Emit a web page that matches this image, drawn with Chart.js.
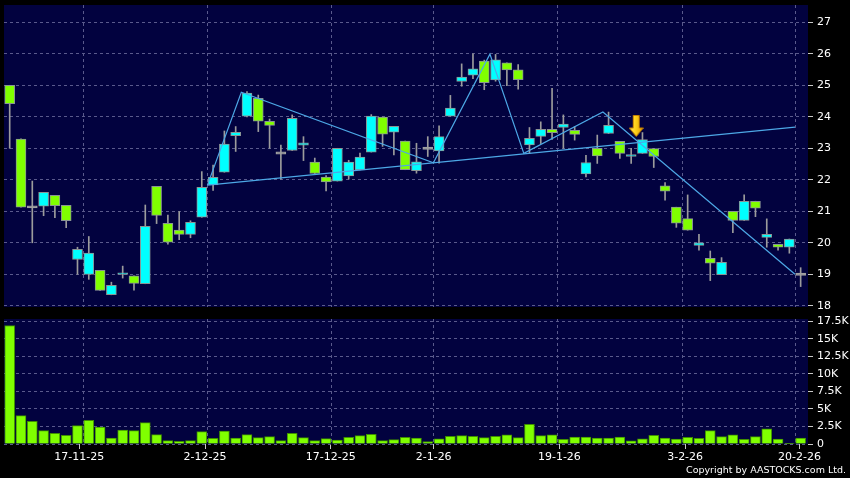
<!DOCTYPE html>
<html><head><meta charset="utf-8">
<script src="https://cdn.jsdelivr.net/npm/chart.js@4"></script>
<style>
html,body{margin:0;padding:0;background:#000;}
#wrap{position:relative;width:850px;height:478px;background:#000;overflow:hidden;}
#priceCv{position:absolute;left:0;top:0;}
#volCv{position:absolute;left:0;top:312px;}
#copy{position:absolute;right:4px;top:464px;font:9.5px "DejaVu Sans";color:#fff;white-space:nowrap;}
</style></head>
<body><div id="wrap">
<canvas id="priceCv" width="850" height="312"></canvas>
<canvas id="volCv" width="850" height="166"></canvas>
<div id="copy">Copyright by AASTOCKS.com Ltd.</div>
</div>
<script>
const dates = ['6-11-25','7-11-25','10-11-25','11-11-25','12-11-25','13-11-25','14-11-25','17-11-25','18-11-25','19-11-25','20-11-25','21-11-25','24-11-25','25-11-25','26-11-25','27-11-25','28-11-25','1-12-25','2-12-25','3-12-25','4-12-25','5-12-25','8-12-25','9-12-25','10-12-25','11-12-25','12-12-25','15-12-25','16-12-25','17-12-25','18-12-25','19-12-25','22-12-25','23-12-25','24-12-25','29-12-25','30-12-25','31-12-25','2-1-26','5-1-26','6-1-26','7-1-26','8-1-26','9-1-26','12-1-26','13-1-26','14-1-26','15-1-26','16-1-26','19-1-26','20-1-26','21-1-26','22-1-26','23-1-26','26-1-26','27-1-26','28-1-26','29-1-26','30-1-26','2-2-26','3-2-26','4-2-26','5-2-26','6-2-26','9-2-26','10-2-26','11-2-26','12-2-26','13-2-26','16-2-26','20-2-26'];
const open = [25.00,23.29,21.14,21.16,21.51,21.19,19.47,19.00,19.13,18.35,
  19.00,18.95,18.70,21.79,20.62,20.40,20.27,20.81,21.84,22.24,
  23.40,24.02,24.59,23.86,22.85,22.93,23.10,22.56,22.09,21.96,
  22.12,22.31,22.88,23.99,23.51,23.23,22.29,23.00,22.92,24.02,
  25.12,25.32,25.77,25.17,25.71,25.49,23.11,23.38,23.60,23.66,
  23.57,22.19,23.00,23.47,23.22,22.74,22.84,22.99,21.81,21.13,
  20.77,19.92,19.51,18.99,21.00,20.71,21.32,20.17,19.95,19.86,19.00];
const high = [25.00,23.30,21.96,21.60,21.51,21.19,19.86,20.20,19.13,18.75,
  19.26,18.95,21.20,21.79,20.88,20.99,20.70,22.26,22.47,23.55,
  23.69,24.80,24.69,23.93,23.10,24.06,23.37,22.69,22.13,23.00,
  22.62,22.85,24.07,23.99,23.70,23.23,23.16,23.37,23.71,24.68,
  25.68,26.00,25.80,25.98,25.71,25.66,23.66,23.84,24.90,24.06,
  23.69,22.78,23.42,24.15,23.22,23.00,23.50,22.99,21.91,21.13,
  21.52,20.27,19.74,19.53,21.00,21.52,21.32,20.76,19.95,20.12,19.21];
const low = [23.00,21.13,20.00,20.86,20.80,20.48,19.00,18.84,18.49,18.35,
  18.88,18.50,18.70,20.61,19.96,20.10,20.16,20.81,21.66,22.24,
  22.90,24.00,23.53,23.00,22.02,22.93,22.61,22.20,21.65,21.96,
  22.02,22.31,22.88,23.06,22.79,22.32,22.21,22.74,22.53,24.02,
  24.97,25.21,24.86,25.13,24.99,24.88,22.84,23.15,23.28,23.00,
  23.26,22.09,22.52,23.47,22.68,22.52,22.84,22.39,21.35,20.49,
  20.40,19.77,18.80,18.99,20.32,20.71,20.83,19.86,19.77,19.67,18.61];
const close = [24.42,21.13,21.14,21.60,21.18,20.70,19.79,19.67,18.49,18.65,
  19.05,18.71,20.52,20.87,20.02,20.27,20.65,21.76,22.08,23.13,
  23.51,24.75,23.86,23.73,22.85,23.95,23.17,22.20,21.93,23.00,
  22.56,22.72,24.02,23.45,23.70,22.32,22.57,23.00,23.37,24.28,
  25.26,25.52,25.08,25.81,25.49,25.18,23.32,23.60,23.50,23.77,
  23.44,22.55,22.76,23.73,22.84,22.80,23.28,22.74,21.64,20.62,
  20.40,20.00,19.35,19.38,20.71,21.32,21.10,20.27,19.86,20.12,19.00];
const volume = [16900,4040,3230,1900,1520,1240,2610,3370,2420,860,
  2000,1900,3040,1330,480,380,480,1760,810,1850,
  860,1330,900,1050,480,1520,900,480,760,570,
  950,1190,1380,480,620,950,860,350,750,1100,
  1200,1100,900,1100,1300,900,2800,1200,1300,650,
  1000,1000,850,850,1000,450,750,1250,850,700,
  950,800,1900,1050,1300,650,1050,2150,700,100,850];
const tickDates = ['17-11-25','2-12-25','17-12-25','2-1-26','19-1-26','3-2-26','20-2-26'];
const priceTicks = [18,19,20,21,22,23,24,25,26,27];
const volumeTicks = [0,2500,5000,7500,10000,12500,15000,17500];
// trend lines (x = trading-day index, y = price)
const zigzagX = [17.5,20.5,37.5,42.5,45.5,52.5,69.5];
const zigzagY = [21.83,24.78,22.54,25.99,22.84,24.15,19.00];
const supportX = [17.5,69.5];
const supportY = [21.83,23.67];
const arrowX = [55.45];
const arrowY = [23.71];

const NAVY = '#02023f';
const GRID = '#5a5a8c';
const UP = '#00ffff', DOWN = '#80ff00';
const FONT = {family:'DejaVu Sans', size:11};

const bgPlugin = {id:'bg', beforeDraw(c){const a=c.chartArea,x=c.ctx;x.save();x.fillStyle=NAVY;x.fillRect(a.left,a.top,a.right-a.left,a.bottom-a.top);x.restore();}};

const tickIdx = tickDates.map(d => dates.indexOf(d));
const gridPos = tickIdx.map(i => i - 0.5);

function fixW(w){return s=>{s.width=w;s.paddingTop=0;s.paddingBottom=0;};}
function fixH(h){return s=>{s.height=h;s.paddingLeft=0;s.paddingRight=0;};}

// arrow glyph
const arrow = document.createElement('canvas');
arrow.width = 15; arrow.height = 22;
(function(){const g=arrow.getContext('2d');
  const gr=g.createLinearGradient(0,0,15,0);
  gr.addColorStop(0,'#ffe866');gr.addColorStop(0.45,'#ffd21a');gr.addColorStop(1,'#e09a00');
  g.fillStyle=gr;g.strokeStyle='#c07a00';g.lineWidth=1;
  g.beginPath();g.moveTo(4.5,0.5);g.lineTo(10.5,0.5);g.lineTo(10.5,13);g.lineTo(14.5,13);g.lineTo(7.5,21.5);g.lineTo(0.5,13);g.lineTo(4.5,13);g.closePath();
  g.fill();g.stroke();})();

const idx = dates.map((d,i)=>i);
const wickData = idx.map(i => ({x:i, y:[low[i], high[i]]}));
const bodyData = idx.map(i => open[i]===close[i] ? {x:i, y:[close[i]-0.035, close[i]+0.035]} : {x:i, y:[Math.min(open[i],close[i]), Math.max(open[i],close[i])]});
const bodyColor = idx.map(i => open[i]===close[i] ? '#a0a0a0' : (close[i]>open[i] ? UP : DOWN));
const bodyBorder = idx.map(i => open[i]===close[i] ? '#a0a0a0' : '#8a9494');

const xGrid = {color:GRID, drawTicks:false, offset:false};

new Chart(document.getElementById('priceCv'), {
  type:'bar',
  data:{datasets:[
    {type:'scatter', data:arrowX.map((x,k)=>({x, y:arrowY[k]})), pointStyle:arrow, pointRadius:8, order:-1},
    {type:'line', data:zigzagX.map((x,k)=>({x, y:zigzagY[k]})), borderColor:'#4da8e6', borderWidth:1.2, pointRadius:0, tension:0, order:0},
    {type:'line', data:supportX.map((x,k)=>({x, y:supportY[k]})), borderColor:'#4da8e6', borderWidth:1.2, pointRadius:0, tension:0, order:0},
    {data:bodyData, backgroundColor:bodyColor, borderColor:bodyBorder, borderWidth:1, borderSkipped:false, barThickness:10, grouped:false, order:1},
    {data:wickData, backgroundColor:'#9c9c9c', borderWidth:0, barThickness:1, grouped:false, order:2}
  ]},
  options:{
    responsive:false, animation:false, devicePixelRatio:1,
    layout:{autoPadding:false, padding:{left:4, top:5, right:0, bottom:5}},
    plugins:{legend:{display:false}, tooltip:{enabled:false}},
    scales:{
      x:{type:'linear', min:-0.504, max:70.65, offset:false,
        afterBuildTicks:s=>{s.ticks=gridPos.map(v=>({value:v}));},
        afterFit:fixH(0),
        ticks:{display:false}, grid:xGrid, border:{display:false, dash:[3,3]}},
      y:{position:'right', min:17.962, max:27.549,
        afterBuildTicks:s=>{s.ticks=priceTicks.map(v=>({value:v}));},
        afterFit:fixW(42),
        ticks:{color:'#ffffff', font:FONT, padding:4},
        grid:{color:GRID, drawTicks:true, tickLength:5, tickColor:'#c8c8c8', tickBorderDash:[]},
        border:{display:false, dash:[3,3]}}
    }
  },
  plugins:[bgPlugin]
});

new Chart(document.getElementById('volCv'), {
  type:'bar',
  data:{datasets:[
    {data:idx.map(i=>({x:i, y:volume[i]})), backgroundColor:'#80ff00', borderColor:'#3f8f00', borderWidth:1, barThickness:10, grouped:false, xAxisID:'x'}
  ]},
  options:{
    responsive:false, animation:false, devicePixelRatio:1,
    layout:{autoPadding:false, padding:{left:4, top:7, right:0, bottom:0}},
    plugins:{legend:{display:false}, tooltip:{enabled:false}},
    scales:{
      x:{type:'linear', min:-0.504, max:70.65, offset:false,
        afterBuildTicks:s=>{s.ticks=gridPos.map(v=>({value:v}));},
        afterFit:fixH(0),
        ticks:{display:false}, grid:xGrid, border:{display:false, dash:[3,3]}},
      x2:{type:'linear', position:'bottom', min:0.411, max:70.75, offset:false,
        afterBuildTicks:s=>{s.ticks=tickIdx.map(v=>({value:v}));},
        afterFit:fixH(34),
        ticks:{color:'#ffffff', font:FONT, padding:2, autoSkip:false, maxRotation:0, minRotation:0,
          callback:v=>dates[v]},
        grid:{drawOnChartArea:false, drawTicks:true, offset:false, tickLength:5, tickColor:'#c8c8c8'},
        border:{display:false}},
      y:{position:'right', min:0, max:17830,
        afterBuildTicks:s=>{s.ticks=volumeTicks.map(v=>({value:v}));},
        afterFit:fixW(42),
        ticks:{color:'#ffffff', font:FONT, padding:4, callback:v=> v===0 ? '0' : (v/1000)+'K'},
        grid:{color:GRID, drawTicks:true, tickLength:5, tickColor:'#c8c8c8', tickBorderDash:[]},
        border:{display:false, dash:[3,3]}}
    }
  },
  plugins:[bgPlugin]
});
</script>
</body></html>
